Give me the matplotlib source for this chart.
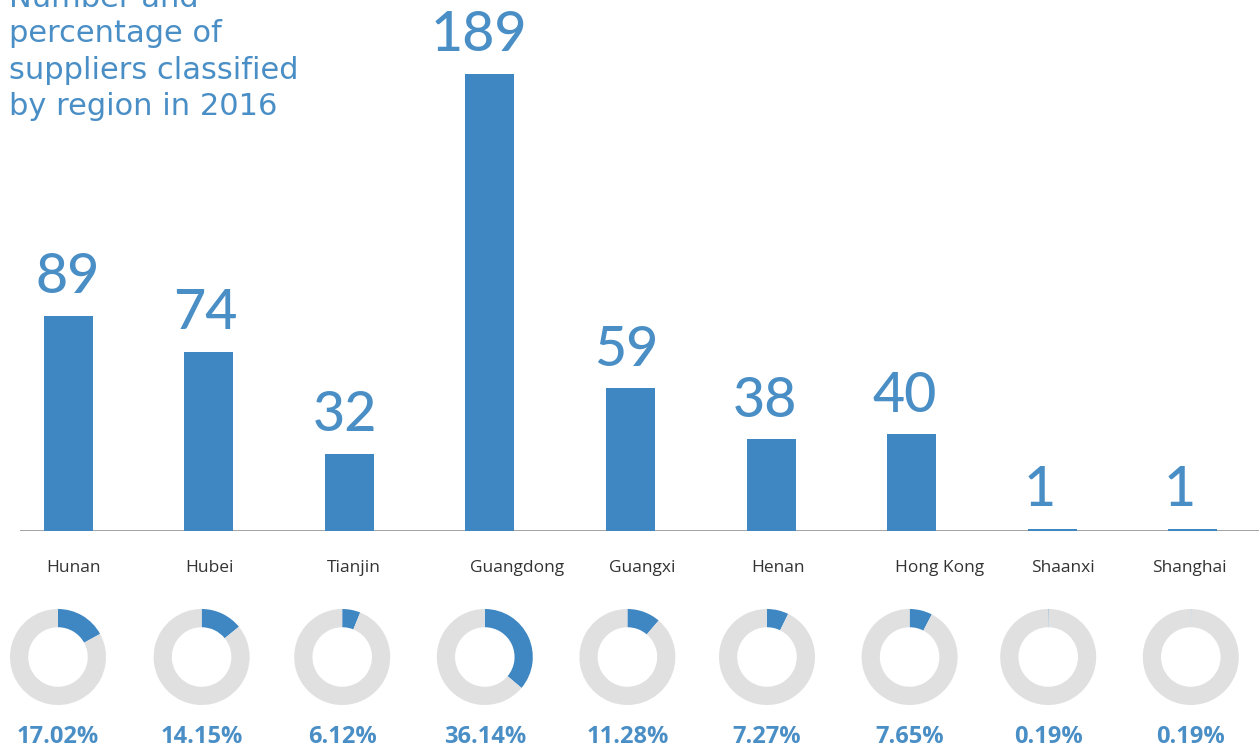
import matplotlib
matplotlib.use("Agg")
import matplotlib.pyplot as plt

# ---- data ----
regions = ["Hunan", "Hubei", "Tianjin", "Guangdong", "Guangxi", "Henan",
           "Hong Kong", "Shaanxi", "Shanghai"]
counts = [89, 74, 32, 189, 59, 38, 40, 1, 1]
percents = [17.02, 14.15, 6.12, 36.14, 11.28, 7.27, 7.65, 0.19, 0.19]
title_lines = ["Number and", "percentage of", "suppliers classified", "by region in 2016"]

# ---- style / layout ----
W, H = 1259, 749
BLUE = "#3f87c3"
TEXT_BLUE = "#4a8ec6"
GREY_RING = "#e0e0e0"
X0_PX, STEP_PX = 68, 140.6          # first bar centre, spacing (px)
BASE_PX = 531                        # baseline y (px from top)
PX_PER_UNIT = 2.42
num_dx = [0, -3, -4, -11, -4, -6, -7, -12, -13]     # number label offsets (px)
lab_dx = [5, 1, 5, 27, 12, 7, 28, 11, -3]           # category label offsets (px)
donut_dx = [-10, -7, -7, -5, -3, -4, -2, -4, -2]     # donut centre offsets (px)

fig = plt.figure(figsize=(W / 100, H / 100), dpi=100)
fig.patch.set_facecolor("white")

def fx(px):
    return px / W

def fy(py):
    return 1 - py / H

# main bar axes
left_px = 20
ax = fig.add_axes([fx(left_px), fy(BASE_PX), fx(W - left_px), BASE_PX / H])
ax.set_xlim((left_px - X0_PX) / STEP_PX, (W - X0_PX) / STEP_PX)
ax.set_ylim(0, BASE_PX / PX_PER_UNIT)
ax.axis("off")
xs = list(range(len(regions)))
ax.bar(xs, counts, width=49 / STEP_PX, color=BLUE, zorder=3)
ax.axhline(0, color="#9c9c9c", lw=1.3, zorder=2)

for i, (x, c) in enumerate(zip(xs, counts)):
    ax.annotate(str(c), (x, c), xytext=(num_dx[i] * 0.72, 9),
                textcoords="offset points", ha="center", va="bottom",
                fontsize=40, color=TEXT_BLUE, family="Lato", fontweight="medium",
                annotation_clip=False)
    ax.annotate(regions[i], (x, 0), xytext=(lab_dx[i] * 0.72, -37 * 0.72),
                textcoords="offset points", ha="center", va="center",
                fontsize=12.5, color="#333333", family="Open Sans",
                annotation_clip=False)

# title
baselines = [7, 42, 79, 115]
for line, b in zip(title_lines, baselines):
    fig.text(fx(9), fy(b), line, ha="left", va="baseline", fontsize=22,
             color=TEXT_BLUE, family="DejaVu Sans")

# donuts
R_PX = 48
for i, p in enumerate(percents):
    cx = X0_PX + STEP_PX * i + donut_dx[i]
    cy = 657
    dax = fig.add_axes([fx(cx - R_PX), fy(cy + R_PX), 2 * R_PX / W, 2 * R_PX / H])
    dax.pie([p, 100 - p], colors=[BLUE, GREY_RING], startangle=90,
            counterclock=False, radius=1.0,
            wedgeprops=dict(width=0.38, edgecolor="none"))
    dax.set_xlim(-1, 1)
    dax.set_ylim(-1, 1)
    dax.set_aspect("equal")
    dax.axis("off")
    fig.text(fx(cx), fy(737), f"{p:.2f}%", ha="center", va="center",
             fontsize=17, fontweight="bold", color=TEXT_BLUE, family="Open Sans")

fig.savefig("out.png", dpi=100, facecolor="white")
